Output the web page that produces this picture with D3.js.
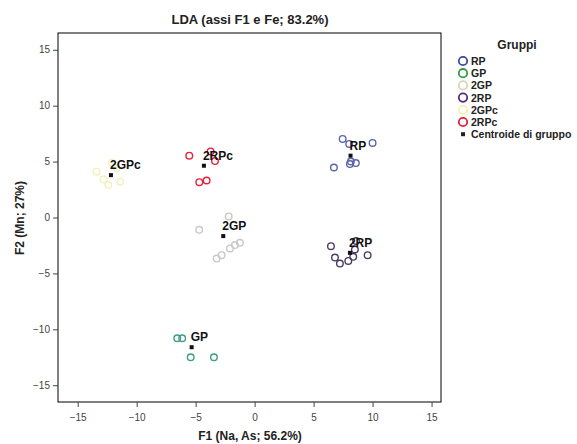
<!DOCTYPE html>
<html><head><meta charset="utf-8">
<script src="https://cdn.jsdelivr.net/npm/d3@7/dist/d3.min.js"></script>
<style>body{margin:0;background:#fff;font-family:"Liberation Sans",Arial,sans-serif;}</style>
</head><body><svg id="c" width="577" height="444"></svg>
<script>
const groups = ["RP","GP","2GP","2RP","2GPc","2RPc"];
const legendColors = ["#3a4a9c","#2e9e3e","#d8d4c0","#5a2a7a","#f6f2b0","#e0203a"];
const plotColors = ["#5a66aa","#3c9c84","#c8c8c8","#4c3c62","#f3f0bc","#e8203c"];
const xTicks = [-15,-10,-5,0,5,10,15];
const yTicks = [-15,-10,-5,0,5,10,15];
const ptsRP = [[7.46,7.03],[8.02,6.58],[10.0,6.67],[6.72,4.47],[8.08,4.78],[8.58,4.87],[8.16,5.01]];
const ptsGP = [[-6.56,-10.8],[-6.14,-10.8],[-5.42,-12.5],[-3.45,-12.5]];
const pts2GP = [[-3.22,-3.67],[-2.8,-3.37],[-2.09,-2.77],[-1.67,-2.47],[-1.25,-2.26],[-4.7,-1.1],[-2.2,0.1]];
const pts2RP = [[6.47,-2.56],[6.81,-3.58],[7.23,-4.12],[7.94,-3.88],[8.36,-3.52],[9.58,-3.37],[8.5,-2.86],[8.6,-2.1]];
const pts2GPc = [[-13.4,4.1],[-12.8,3.4],[-11.7,4.4],[-12.4,2.9],[-11.4,3.2],[-12.1,4.9]];
const pts2RPc = [[-5.54,5.53],[-3.73,5.91],[-3.36,5.05],[-4.07,3.31],[-4.69,3.16]];
const centroids = [[8.13,5.53],[-5.34,-11.6],[-2.66,-1.66],[8.08,-3.16],[-12.18,3.79],[-4.3,4.63]];
const allPts = [ptsRP,ptsGP,pts2GP,pts2RP,pts2GPc,pts2RPc];

const svg = d3.select("#c");
const L=58,R=441,T=33,B=402;
const x = d3.scaleLinear().domain([-16.67,15.8]).range([L,R]);
const y = d3.scaleLinear().domain([-16.5,16.5]).range([B,T]);

svg.append("rect").attr("x",L).attr("y",T).attr("width",R-L).attr("height",B-T)
  .attr("fill","none").attr("stroke","#000").attr("stroke-width",1);

const xa = svg.append("g").attr("transform",`translate(0,${B})`)
  .call(d3.axisBottom(x).tickValues(xTicks).tickSize(5).tickSizeOuter(0));
const ya = svg.append("g").attr("transform",`translate(${L},0)`)
  .call(d3.axisLeft(y).tickValues(yTicks).tickSize(5).tickSizeOuter(0));
[xa,ya].forEach(a=>{a.select(".domain").remove();
  a.selectAll("text").attr("font-family","Liberation Sans, Arial, sans-serif").attr("font-size",10).attr("fill","#444");
  a.selectAll("line").attr("stroke","#444");});
xa.selectAll("text").attr("dy","1.1em");

allPts.forEach((pts,i)=>{
  svg.append("g").selectAll("circle").data(pts).join("circle")
    .attr("cx",d=>x(d[0])).attr("cy",d=>y(d[1])).attr("r",3.3)
    .attr("fill","none").attr("stroke",plotColors[i]).attr("stroke-width",1.4);
});
centroids.forEach((c,i)=>{
  svg.append("rect").attr("x",x(c[0])-2).attr("y",y(c[1])-2).attr("width",4).attr("height",4).attr("fill","#111");
  svg.append("text").attr("x",x(c[0])-1).attr("y",y(c[1])-6)
    .attr("font-size",12).attr("font-weight","bold").attr("fill","#111").text(groups[i]);
});

svg.append("text").attr("x",250).attr("y",24).attr("text-anchor","middle")
  .attr("font-size",13).attr("font-weight","bold").attr("fill","#222").text("LDA (assi F1 e Fe; 83.2%)");
svg.append("text").attr("x",250).attr("y",440).attr("text-anchor","middle")
  .attr("font-size",12).attr("font-weight","bold").attr("fill","#222").text("F1 (Na, As; 56.2%)");
svg.append("text").attr("transform","translate(24,218) rotate(-90)").attr("text-anchor","middle")
  .attr("font-size",12).attr("font-weight","bold").attr("fill","#222").text("F2 (Mn; 27%)");

// legend
svg.append("text").attr("x",517).attr("y",49).attr("text-anchor","middle")
  .attr("font-size",12).attr("font-weight","bold").attr("fill","#222").text("Gruppi");
groups.forEach((g,i)=>{
  const yy = 61 + i*12.2;
  svg.append("circle").attr("cx",463).attr("cy",yy).attr("r",4.2)
    .attr("fill","none").attr("stroke",legendColors[i]).attr("stroke-width",1.8);
  svg.append("text").attr("x",471).attr("y",yy+4).attr("font-size",10.5).attr("font-weight","bold").attr("fill","#222").text(g);
});
const yc = 61 + 6*12.2;
svg.append("rect").attr("x",461).attr("y",yc-2).attr("width",4).attr("height",4).attr("fill","#222");
svg.append("text").attr("x",471).attr("y",yc+4).attr("font-size",10.5).attr("font-weight","bold").attr("fill","#222").text("Centroide di gruppo");
</script></body></html>
